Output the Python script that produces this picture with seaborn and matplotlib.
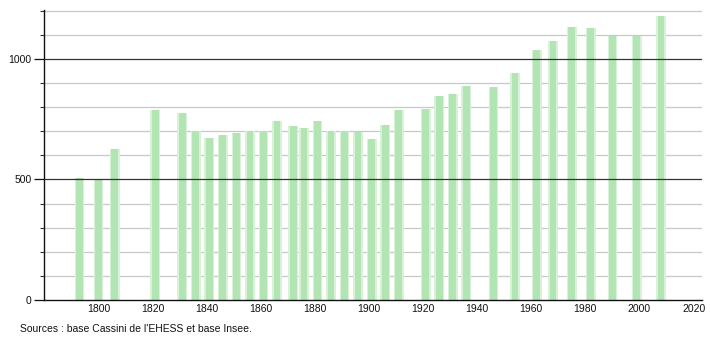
import matplotlib
matplotlib.use("Agg")
import matplotlib.pyplot as plt
import seaborn as sns
import pandas as pd
from matplotlib.ticker import MultipleLocator

years = [1793, 1800, 1806, 1821, 1831, 1836, 1841, 1846, 1851, 1856, 1861, 1866,
         1872, 1876, 1881, 1886, 1891, 1896, 1901, 1906, 1911, 1921, 1926, 1931,
         1936, 1946, 1954, 1962, 1968, 1975, 1982, 1990, 1999, 2008]
population = [507, 503, 625, 787, 775, 701, 671, 685, 692, 701, 701, 742,
              721, 712, 742, 701, 701, 697, 667, 725, 787, 792, 846, 854,
              886, 883, 942, 1035, 1075, 1133, 1128, 1096, 1096, 1179]
x_ticks = [1800, 1820, 1840, 1860, 1880, 1900, 1920, 1940, 1960, 1980, 2000, 2020]
y_ticks = [0, 500, 1000]
source_text = "Sources : base Cassini de l'EHESS et base Insee."

df = pd.DataFrame({"year": years, "pop": population})

sns.set_theme(style="white")
plt.rcParams["font.family"] = ["Liberation Sans", "DejaVu Sans"]

fig = plt.figure(figsize=(7.1, 3.4), dpi=100)
ax = fig.add_axes([44.3 / 710, 1 - 300 / 340, (701.7 - 44.3) / 710, 290 / 340])

# soft halo then core, to imitate blurred bar edges
sns.barplot(data=df, x="year", y="pop", native_scale=True, width=0.9,
            color="#d8f2d8", saturation=1, linewidth=0, edgecolor="none",
            ax=ax, zorder=2)
sns.barplot(data=df, x="year", y="pop", native_scale=True, width=0.62,
            color="#b3e4b3", saturation=1, linewidth=0, edgecolor="none",
            ax=ax, zorder=3)

ax.set_xlim(1780, 2023)
ax.set_ylim(0, 1203)

# gridlines
for v in range(100, 1201, 100):
    if v % 500 == 0:
        ax.axhline(v, color="#333333", lw=0.9, zorder=4)
    else:
        ax.axhline(v, color="#c8c8c8", lw=0.9, zorder=1)

ax.set_xticks(x_ticks)
ax.set_xticklabels([str(t) for t in x_ticks])
ax.set_yticks(y_ticks)
ax.set_yticklabels([str(t) for t in y_ticks])
ax.yaxis.set_minor_locator(MultipleLocator(100))
ax.tick_params(axis="x", length=0, pad=3, labelsize=7.5, colors="#111111")
ax.tick_params(axis="y", which="major", length=7, width=0.9, pad=2,
               labelsize=7.5, colors="#111111", direction="out")
ax.tick_params(axis="y", which="minor", length=3, width=0.8, direction="out",
               color="#333333", left=True)
ax.tick_params(axis="y", which="major", color="#111111", left=True)

ax.set_xlabel("")
ax.set_ylabel("")
for s in ["top", "right"]:
    ax.spines[s].set_visible(False)
for s in ["left", "bottom"]:
    ax.spines[s].set_color("#111111")
    ax.spines[s].set_linewidth(1.0)
    ax.spines[s].set_zorder(5)

fig.text(20 / 710, 1 - 329 / 340, source_text, fontsize=7.5, color="#111111",
         ha="left", va="center")

fig.savefig("out.png", dpi=100, facecolor="white")
